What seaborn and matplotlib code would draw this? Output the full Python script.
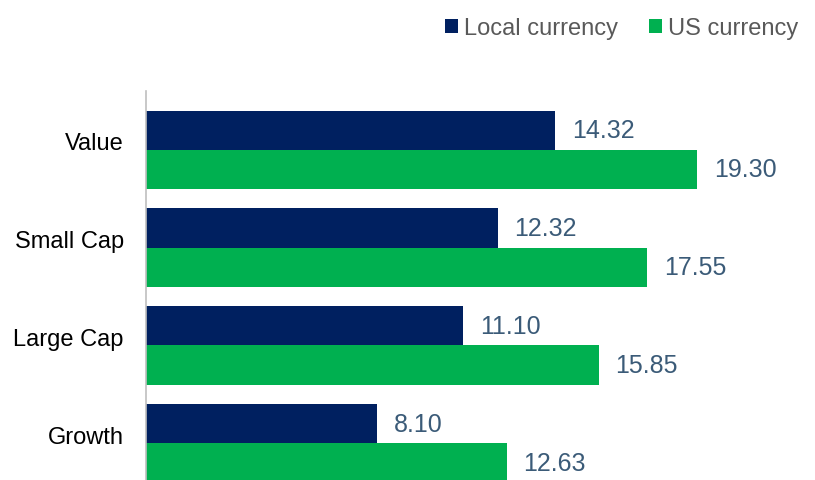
import matplotlib
matplotlib.use("Agg")
import matplotlib.pyplot as plt
import matplotlib.transforms as mtransforms
import seaborn as sns
import pandas as pd
from matplotlib.patches import Patch

categories = ["Value", "Small Cap", "Large Cap", "Growth"]
series_names = ["Local currency", "US currency"]
local_values = [14.32, 12.32, 11.10, 8.10]
us_values = [19.30, 17.55, 15.85, 12.63]

colors = {"Local currency": "#002060", "US currency": "#00B050"}

df = pd.DataFrame({
    "category": categories * 2,
    "series": [series_names[0]] * 4 + [series_names[1]] * 4,
    "value": local_values + us_values,
})

sns.set_theme(style="white")
plt.rcParams['font.family'] = ['Liberation Sans', 'DejaVu Sans']

fig = plt.figure(figsize=(8.15, 4.81), dpi=100)
ax = fig.add_axes([146 / 815, 0.0, 657 / 815, 389 / 481])

sns.barplot(data=df, y="category", x="value", hue="series", order=categories,
            hue_order=series_names, palette=colors, orient="h", width=0.8,
            saturation=1, ax=ax, legend=False, edgecolor="none")

ax.set_xlim(0, 23)
ax.set_ylim(3.375, -0.6)
ax.set_xlabel("")
ax.set_ylabel("")
ax.set_xticks([])
ax.tick_params(axis="y", length=0, labelsize=17, labelcolor="#000000", pad=16)
offset = mtransforms.ScaledTranslation(0, 0.09, fig.dpi_scale_trans)
for lbl in ax.get_yticklabels():
    lbl.set_transform(lbl.get_transform() + offset)
for side in ["top", "right", "bottom"]:
    ax.spines[side].set_visible(False)
ax.spines["left"].set_color("#BFBFBF")
ax.spines["left"].set_linewidth(1.2)

for container in ax.containers:
    ax.bar_label(container, fmt="%.2f", padding=12, fontsize=18, color="#3B5B78")

handles = [Patch(facecolor=colors[s], edgecolor="none") for s in series_names]
fig.legend(handles, series_names, loc="center right", bbox_to_anchor=(798 / 815, 1 - 29 / 481),
           ncol=2, frameon=False, fontsize=17, labelcolor="#595959",
           handlelength=0.55, handleheight=0.55, handletextpad=0.25, columnspacing=1.3,
           borderaxespad=0.0, borderpad=0.0)

fig.savefig("out.png", dpi=100)
